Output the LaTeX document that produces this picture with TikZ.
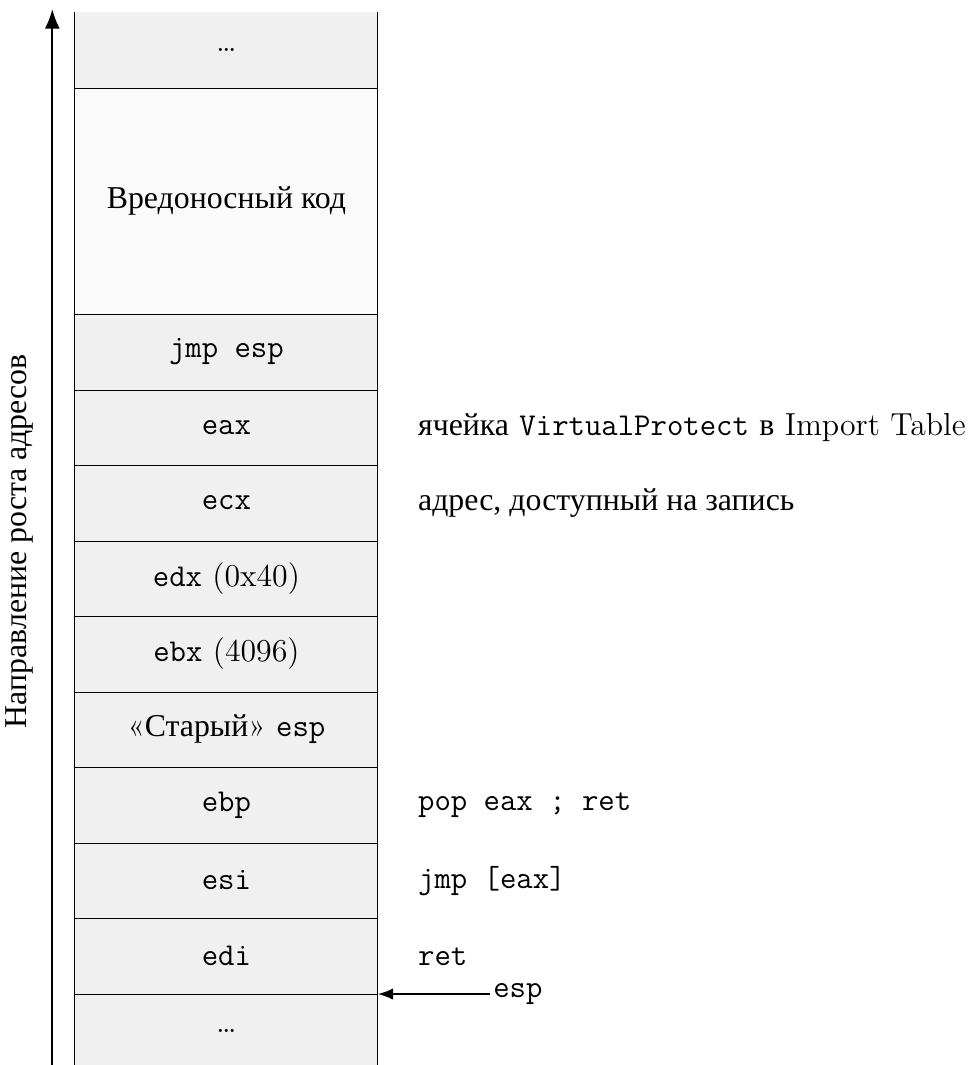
\documentclass[tikz,12pt,border=0pt]{standalone}
\usepackage{fontspec}
\newfontfamily\cyr{Liberation Serif}
\usetikzlibrary{arrows.meta}
\definecolor{cellgray}{RGB}{240,240,240}
\definecolor{lightcell}{RGB}{250,250,250}
\tikzset{
  cell/.style={minimum width=4cm, minimum height=1cm, inner sep=0pt, fill=cellgray, anchor=south west, draw=none},
  bigcell/.style={cell, minimum height=3cm, fill=lightcell},
  sep/.style={draw=black, line width=0.4pt},
  note/.style={anchor=west, inner sep=0pt},
  axis/.style={line width=0.8pt, -{Latex[length=2.6mm,width=2mm]}}
}
\begin{document}
\begin{tikzpicture}
\useasboundingbox (-0.993,-0.94) rectangle (11.92,13.17);
\node[cell] (bot) at (0,-1) {\ldots};
\node[cell] (edi) at (0,0) {\texttt{edi}};
\node[cell] (esi) at (0,1) {\texttt{esi}};
\node[cell] (ebp) at (0,2) {\texttt{ebp}};
\node[cell] (oesp) at (0,3) {«{\cyr Старый}» \texttt{esp}};
\node[cell] (ebx) at (0,4) {\texttt{ebx} (4096)};
\node[cell] (edx) at (0,5) {\texttt{edx} (0x40)};
\node[cell] (ecx) at (0,6) {\texttt{ecx}};
\node[cell] (eax) at (0,7) {\texttt{eax}};
\node[cell] (jmp) at (0,8) {\texttt{jmp esp}};
\node[bigcell] (mal) at (0,9) {\cyr Вредоносный код};
\node[cell] (top) at (0,12) {\ldots};
% separators
\foreach \c in {edi,esi,ebp,oesp,ebx,edx,ecx,eax,jmp,mal,top}
  \draw[sep] (\c.south west) -- (\c.south east);
\draw[sep] (bot.south west) -- (top.north west);
\draw[sep] (bot.south east) -- (top.north east);
% notes
\node[note] (n1) at (4.54,7.5) {{\cyr ячейка} \texttt{VirtualProtect} {\cyr в} Import Table};
\node[note] (n2) at (4.54,6.5) {\cyr адрес, доступный на запись};
\node[note] (n3) at (4.54,2.5) {\texttt{pop eax ; ret}};
\node[note] (n4) at (4.54,1.5) {\texttt{jmp [eax]}};
\node[note] (n5) at (4.54,0.5) {\texttt{ret}};
% esp pointer
\node[anchor=west, inner sep=1pt] (esp) at (5.5,0) {\texttt{esp}};
\draw[-{Latex[length=2mm,width=1.5mm]}, line width=0.5pt] (esp.west) -- (edi.south east);
% address axis
\coordinate (abot) at (-0.3,-1);
\coordinate (atop) at (-0.3,13.05);
\draw[axis] (abot) -- (atop);
\node[rotate=90] (lab) at (-0.73,6) {\cyr Направление роста адресов};
\end{tikzpicture}
\end{document}
